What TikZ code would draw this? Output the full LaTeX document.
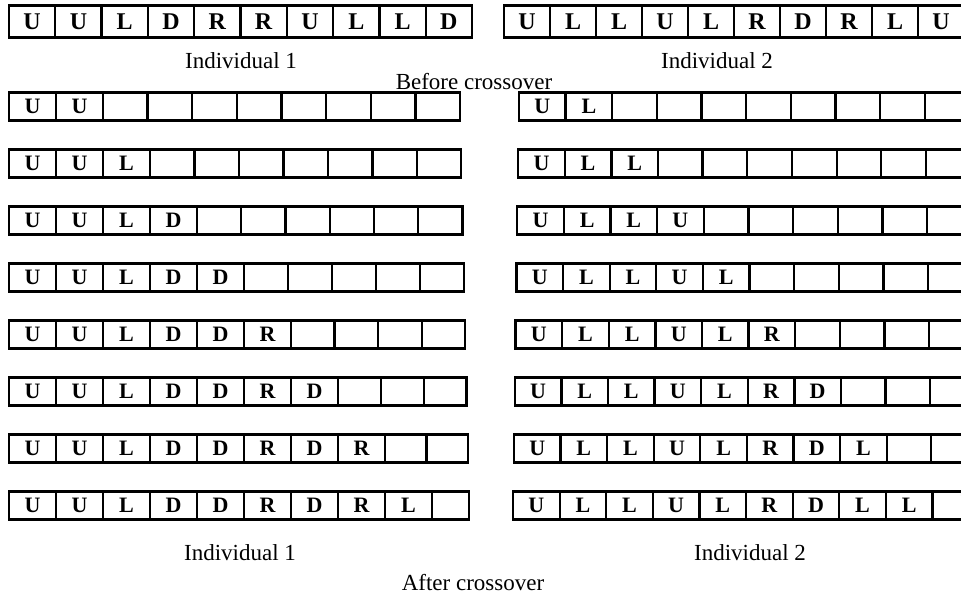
\documentclass[tikz,border=0pt]{standalone}
\usepackage{fontspec}
\setmainfont{Liberation Serif}
\begin{document}
\begin{tikzpicture}[x=1pt,y=-1pt,
  cell/.style={draw, line width=2.3pt, outer sep=0pt, inner sep=0pt, anchor=north west, font=\bfseries\fontsize{22}{22}\selectfont},
  topcell/.style={cell, font=\bfseries\fontsize{24}{24}\selectfont},
  lab/.style={anchor=base, inner sep=0pt, font=\fontsize{23}{23}\selectfont}]
\useasboundingbox (0,0) rectangle (961,597);
\clip (0,0) rectangle (961,597);

% before crossover
\foreach \t [count=\c] in {U,U,L,D,R,R,U,L,L,D} {
  \pgfmathsetmacro\xa{9+46.3*(\c-1)}
  \node[topcell, minimum width=46.3pt, minimum height=32pt] (ta-\c) at (\xa,5.5) {\t};
}
\foreach \t [count=\c] in {U,L,L,U,L,R,D,R,L,U} {
  \pgfmathsetmacro\xa{504+46*(\c-1)}
  \node[topcell, minimum width=46pt, minimum height=32pt] (tb-\c) at (\xa,5.5) {\t};
}

% after crossover, individual 1
\foreach \r in {1,...,8} {
  \pgfmathtruncatemacro\k{\r+1}
  \pgfmathsetmacro\yt{92.5+57*(\r-1)}
  \pgfmathsetmacro\R{460+1.3*(\r-1)}
  \pgfmathsetmacro\we{(\R-9-47*\k)/(10-\k)}
  \foreach \t [count=\c] in {U,U,L,D,D,R,D,R,L,X} {
    \pgfmathsetmacro\xa{\c<\k+0.5 ? 9+47*(\c-1) : 9+47*\k+\we*(\c-1-\k)}
    \pgfmathsetmacro\w{\c<\k+0.5 ? 47 : \we}
    \node[cell, minimum width=\w pt, minimum height=28pt] (a\r-\c) at (\xa,\yt) {\ifnum\c>\k\relax\else\t\fi};
  }
}

% after crossover, individual 2
\foreach \r in {1,...,8} {
  \pgfmathtruncatemacro\k{\r+1}
  \pgfmathsetmacro\yt{92.5+57*(\r-1)}
  \pgfmathsetmacro\xo{519-0.85*(\r-1)}
  \pgfmathsetmacro\xn{\k>8.5 ? \xo+46.6*9 : 925+(\r-1)}
  \pgfmathsetmacro\we{(\xn-\xo-46.6*\k)/max(9-\k,1)}
  \foreach \t [count=\c] in {U,L,L,U,L,R,D,L,L,X} {
    \pgfmathsetmacro\xa{\c<\k+0.5 ? \xo+46.6*(\c-1) : (\c>9.5 ? \xn : \xo+46.6*\k+\we*(\c-1-\k))}
    \pgfmathsetmacro\w{\c<\k+0.5 ? 46.6 : (\c>9.5 ? 975-\xn : \we)}
    \node[cell, minimum width=\w pt, minimum height=28pt] (b\r-\c) at (\xa,\yt) {\ifnum\c>\k\relax\else\t\fi};
  }
}

% labels
\node[lab] (ind1a) at (241,68) {Individual 1};
\node[lab] (ind2a) at (717,68) {Individual 2};
\node[lab] (before) at (474,89) {Before crossover};
\node[lab] (ind1b) at (240,560.5) {Individual 1};
\node[lab] (ind2b) at (750,560) {Individual 2};
\node[lab] (after) at (473,590.5) {After crossover};
\end{tikzpicture}
\end{document}
